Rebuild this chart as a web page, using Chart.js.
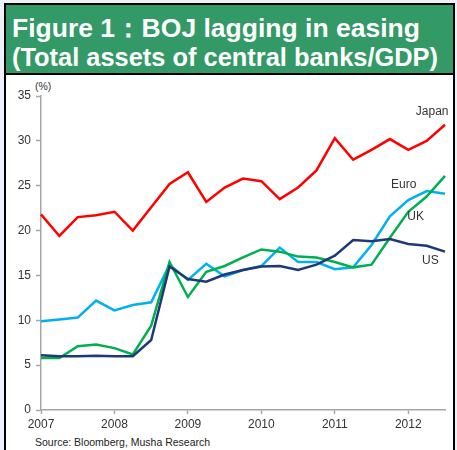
<!DOCTYPE html>
<html>
<head>
<meta charset="utf-8">
<script src="https://cdn.jsdelivr.net/npm/chart.js@4.4.0/dist/chart.umd.min.js"></script>
<style>
  html, body { margin: 0; padding: 0; }
  body { width: 457px; height: 450px; background: #eef0fa; position: relative; overflow: hidden;
         font-family: "Liberation Sans", Arial, sans-serif; }
  #frame { position: absolute; left: 4px; top: 3px; width: 451px; height: 470px;
           border: 2px solid #000; box-sizing: border-box; background: #fff; }
  #header { position: absolute; left: 6px; top: 5px; width: 447px; height: 68px;
            background: #339966; border-bottom: 2px solid #000; }
  .tline { position: absolute; left: 12px; color: #fff; font-weight: bold; font-size: 26px;
           line-height: 26px; white-space: nowrap; transform-origin: 0 50%; }
  #pct { position: absolute; left: 35px; top: 80px; font-size: 10.5px; color: #333; }
  #source { position: absolute; left: 35px; top: 436px; font-size: 10.5px; color: #222; white-space: nowrap; }
  #wrap { position: absolute; left: 0; top: 76px; width: 457px; height: 358px; }
</style>
</head>
<body>
<div id="frame"></div>
<div id="header"></div>
<div class="tline" id="t1" style="top:15px" data-w="408">Figure 1：BOJ lagging in easing</div>
<div class="tline" id="t2" style="top:44px" data-w="426">(Total assets of central banks/GDP)</div>
<div id="pct">(%)</div>
<div id="wrap"><canvas id="c"></canvas></div>
<div id="source">Source: Bloomberg, Musha Research</div>
<script>
// ---- data (quarterly, % of GDP) ----
const categories = ['2007Q1','2007Q2','2007Q3','2007Q4','2008Q1','2008Q2','2008Q3','2008Q4',
  '2009Q1','2009Q2','2009Q3','2009Q4','2010Q1','2010Q2','2010Q3','2010Q4',
  '2011Q1','2011Q2','2011Q3','2011Q4','2012Q1','2012Q2','2012Q3'];
const japan = [21.8,19.4,21.5,21.7,22.1,20.0,22.6,25.2,26.5,23.2,24.8,25.8,25.5,23.5,24.8,26.7,30.3,27.9,29.0,30.2,29.0,30.0,31.8];
const us    = [6.1,6.0,6.0,6.05,6.0,6.0,7.8,16.0,14.6,14.3,15.1,15.6,16.0,16.05,15.6,16.2,17.2,18.95,18.8,19.05,18.5,18.3,17.65];
const euro  = [5.8,5.8,7.1,7.3,6.9,6.2,9.4,16.5,12.6,15.4,16.05,17.0,17.9,17.65,17.1,17.0,16.5,15.9,16.2,19.2,22.1,23.8,26.1];
const uk    = [9.9,10.1,10.3,12.2,11.1,11.7,12.0,16.2,14.5,16.3,14.9,15.6,16.05,18.1,16.5,16.5,15.7,15.9,18.4,21.6,23.4,24.4,24.1];
const yTicks = [0,5,10,15,20,25,30,35];
const seriesLabels = ['Japan','Euro','UK','US'];
// label anchors: [category index, value]
const labelAnchors = [[21.3,33.2],[19.75,25.1],[20.4,21.5],[21.2,16.6]];

// fit title lines to the reference widths
document.querySelectorAll('.tline').forEach(el => {
  const w = el.getBoundingClientRect().width;
  const target = parseFloat(el.dataset.w);
  el.style.transform = 'scaleX(' + (target / w) + ')';
});

const axisColor = '#a6a6a6';
const textColor = '#333333';

const seriesLabelPlugin = {
  id: 'seriesLabels',
  afterDatasetsDraw(chart) {
    const ctx = chart.ctx, xs = chart.scales.x, ys = chart.scales.y;
    ctx.save();
    ctx.font = '12px "Liberation Sans", Arial, sans-serif';
    ctx.fillStyle = textColor;
    ctx.textAlign = 'center';
    ctx.textBaseline = 'middle';
    seriesLabels.forEach((t, i) => {
      const a = labelAnchors[i];
      ctx.fillText(t, xs.getPixelForValue(a[0]), ys.getPixelForValue(a[1]));
    });
    ctx.restore();
  }
};

const ds = (label, data, color) => ({
  label, data, borderColor: color, backgroundColor: color, borderWidth: 2.5,
  pointRadius: 0, tension: 0, fill: false, borderJoinStyle: 'miter'
});

new Chart(document.getElementById('c'), {
  type: 'line',
  data: {
    labels: categories,
    datasets: [
      ds('Japan', japan, '#ff0000'),
      ds('US', us, '#1f3877'),
      ds('Euro', euro, '#00b050'),
      ds('UK', uk, '#00b0f0')
    ]
  },
  options: {
    responsive: true,
    maintainAspectRatio: false,
    animation: false,
    layout: { padding: { top: 20, right: 12, left: 0, bottom: 0 } },
    plugins: { legend: { display: false }, tooltip: { enabled: false } },
    scales: {
      x: {
        type: 'category',
        offset: false,
        afterFit: s => { s.height = 24; },
        grid: {
          drawOnChartArea: false, drawTicks: true, tickLength: 4,
          tickColor: c => (c.index % 4 === 0 ? axisColor : 'rgba(0,0,0,0)'),
          tickWidth: 1.5
        },
        border: { color: axisColor, width: 1.5 },
        ticks: {
          autoSkip: false, maxRotation: 0, padding: 3,
          color: textColor,
          font: { family: '"Liberation Sans", Arial, sans-serif', size: 12 },
          callback: function(v, i) { const l = categories[i]; return l.endsWith('Q1') ? l.slice(0, 4) : ''; }
        }
      },
      y: {
        min: 0, max: 35,
        afterFit: s => { s.width = 41; },
        afterBuildTicks: s => { s.ticks = yTicks.map(v => ({ value: v })); },
        grid: { drawOnChartArea: false, drawTicks: true, tickLength: 5, tickColor: axisColor, tickWidth: 1.5 },
        border: { color: axisColor, width: 1.5 },
        ticks: {
          padding: 5, color: textColor,
          font: { family: '"Liberation Sans", Arial, sans-serif', size: 12 }
        }
      }
    }
  },
  plugins: [seriesLabelPlugin]
});
</script>
</body>
</html>
